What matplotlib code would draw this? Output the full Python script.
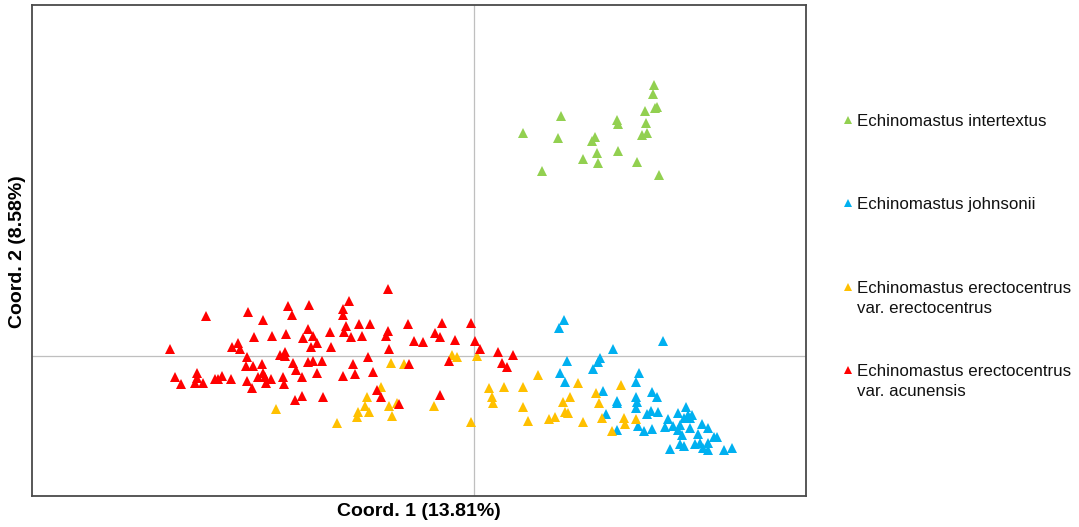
import matplotlib
matplotlib.use("Agg")
import matplotlib.pyplot as plt
from matplotlib.lines import Line2D

plt.rcParams['font.family'] = ['Liberation Sans', 'DejaVu Sans']

# ---- data (Coord. 1, Coord. 2 in arbitrary units) ----
inter_x = [180, 179, 171, 181, 183, 87, 49, 143, 144, 172, 84, 121, 118, 168, 173,
           123, 109, 144, 124, 163, 68, 185]
inter_y = [271, 262, 245, 248, 249, 240, 223, 236, 232, 233, 218, 219, 215, 221, 223,
           203, 197, 205, 193, 194, 185, 181]

john_x = [90, 85, 189, 139, 93, 126, 124, 119, 86, 91, 165, 162, 129, 178, 183, 143,
          143, 162, 163, 162, 132, 173, 177, 184, 212, 204, 214, 218, 210, 216, 194,
          191, 199, 206, 204, 208, 216, 228, 234, 164, 143, 170, 178, 224, 206, 210,
          243, 240, 221, 226, 234, 229, 234, 196, 250, 258]
john_y = [36, 28, 15, 7, -5, -2, -6, -13, -17, -26, -17, -26, -35, -36, -41, -45,
          -47, -41, -46, -52, -58, -58, -55, -56, -51, -57, -59, -59, -62, -62, -63,
          -71, -70, -69, -74, -79, -72, -68, -72, -70, -74, -75, -73, -78, -88, -90,
          -81, -81, -88, -87, -87, -92, -94, -93, -94, -92]

erect_x = [-198, -83, -70, -22, -17, 3, -93, -107, -109, -105, -116, -117, -85, -82,
           -77, -137, -40, -3, 15, 30, 18, 19, 49, 64, 104, 147, 122, 96, 89, 125, 49,
           91, 94, 54, 75, 81, 109, 128, 150, 151, 162, 138]
erect_y = [-53, -7, -8, 1, -1, 0, -31, -41, -50, -56, -56, -61, -50, -60, -47, -67,
           -50, -66, -32, -31, -41, -47, -31, -19, -27, -29, -37, -41, -46, -47, -51,
           -56, -57, -65, -63, -61, -66, -62, -62, -68, -63, -75]

acun_x = [-268, -226, -186, -165, -182, -211, -220, -202, -188, -166, -171, -161,
          -157, -163, -304, -242, -236, -234, -227, -194, -189, -189, -228, -221, -212,
          -181, -166, -161, -178, -157, -299, -293, -277, -277, -279, -271, -259, -256,
          -252, -243, -227, -222, -216, -211, -209, -208, -203, -191, -190, -172, -172,
          -179,
          -86, -125, -131, -131, -128, -115, -104, -144, -130, -123, -112, -143, -86,
          -88, -66, -32, -3, -60, -51, -39, -34, -19, 1, -85, 6, 24, 39, 28, 33, -152,
          -106, -121, -65, -25, -131, -119, -101, -151, -97, -93, -34, -75]
acun_y = [40, 44, 50, 51, 41, 36, 19, 20, 22, 27, 18, 20, 13, 9, 7, 9, 13, 7, -1, 1,
          4, 0, -10, -10, -8, -7, -6, -5, -14, -17, -21, -28, -17, -22, -27, -27, -23,
          -23, -20, -23, -25, -32, -21, -17, -21, -27, -23, -21, -28, -21, -40, -44,
          67, 55, 47, 41, 30, 32, 32, 24, 24, 19, 20, 9, 25, 20, 32, 33, 33, 15, 14,
          23, 19, 16, 15, 7, 7, 4, 1, -7, -11, -5, -1, -8, -8, -5, -20, -18, -16, -41,
          -34, -41, -39, -48]

labels = ["Echinomastus intertextus",
          "Echinomastus johnsonii",
          "Echinomastus erectocentrus\nvar. erectocentrus",
          "Echinomastus erectocentrus\nvar. acunensis"]
colors = ["#92D050", "#00B0F0", "#FFC000", "#FF0000"]

x_label = "Coord. 1 (13.81%)"
y_label = "Coord. 2 (8.58%)"

# ---- figure ----
W, H = 1079, 527
fig = plt.figure(figsize=(W / 100, H / 100), dpi=100)
ax = fig.add_axes([32 / W, 1 - 496 / H, (806 - 32) / W, (496 - 5) / H])
ax.set_xlim(-442, 332)
ax.set_ylim(-140, 351)
ax.set_xticks([])
ax.set_yticks([])
for sp in ax.spines.values():
    sp.set_color("#4a4a4a")
    sp.set_linewidth(1.3)

ax.axhline(0, color="#BFBFBF", lw=0.9, zorder=1)
ax.axvline(0, color="#BFBFBF", lw=0.9, zorder=1)

series = [(inter_x, inter_y), (john_x, john_y), (erect_x, erect_y), (acun_x, acun_y)]
for (xs, ys), c in zip(series, colors):
    ax.plot(xs, ys, linestyle="none", marker="^", ms=6.8, color=c,
            markeredgewidth=0, zorder=3)

fig.text(419 / W, 1 - 511 / H, x_label, ha="center", va="center",
         fontsize=14, fontweight="bold")
fig.text(18 / W, 1 - 252 / H, y_label, ha="center", va="center",
         fontsize=14, fontweight="bold", rotation=90)

# legend (manual)
leg_y = [120, 203, 287, 370]
line_gap = 20
for yy, lab, c in zip(leg_y, labels, colors):
    fig.add_artist(Line2D([848 / W], [1 - yy / H], transform=fig.transFigure,
                          marker="^", ms=5.5, color=c, markeredgewidth=0,
                          linestyle="none"))
    for i, part in enumerate(lab.split("\n")):
        fig.text(857 / W, 1 - (yy + 6 + i * line_gap) / H, part, ha="left",
                 va="baseline", fontsize=12.2, color="#111111")

fig.savefig("out.png", dpi=100)
